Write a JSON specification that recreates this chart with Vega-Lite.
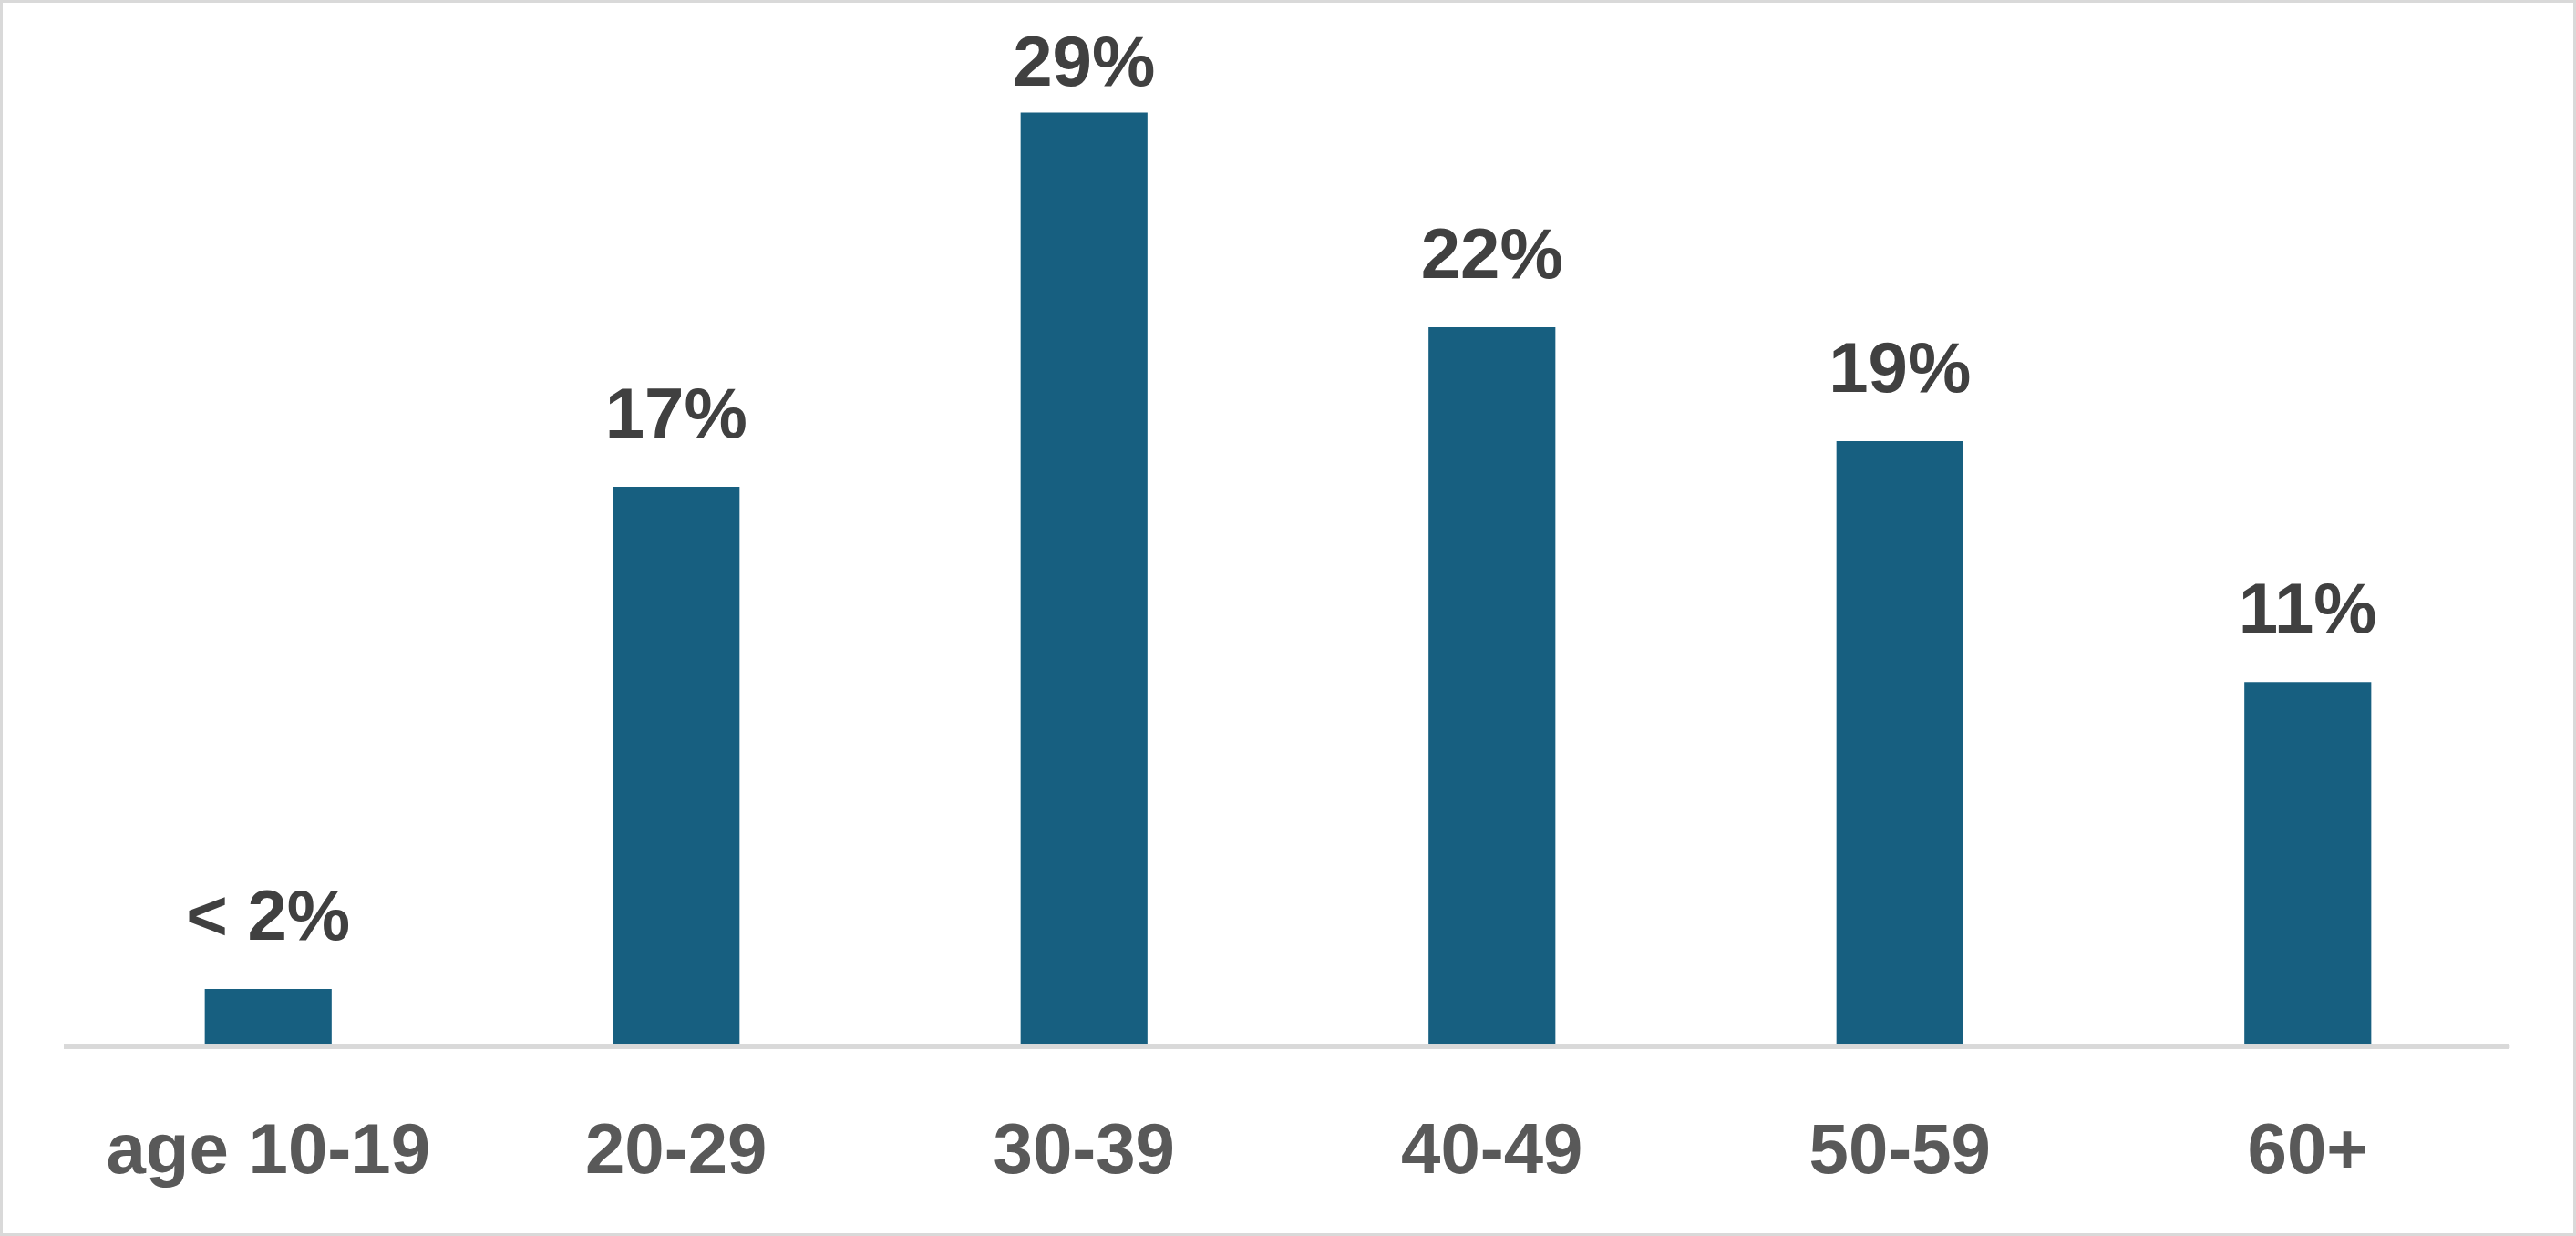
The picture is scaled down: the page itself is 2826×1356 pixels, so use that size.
{
  "$schema": "https://vega.github.io/schema/vega-lite/v6.json",
  "autosize": {"type": "fit", "contains": "padding"},
  "width": 2826,
  "height": 1356,
  "padding": 0,
  "background": "white",
  "config": {"view": {"stroke": "#d9d9d9", "strokeWidth": 6}},
  "data": {
    "values": [
      {"age": "age 10-19", "pct": 1.76, "label": "< 2%"},
      {"age": "20-29", "pct": 17.2, "label": "17%"},
      {"age": "30-39", "pct": 28.7, "label": "29%"},
      {"age": "40-49", "pct": 22.1, "label": "22%"},
      {"age": "50-59", "pct": 18.6, "label": "19%"},
      {"age": "60+", "pct": 11.2, "label": "11%"}
    ]
  },
  "layer": [
    {
      "mark": {"type": "bar", "color": "#175F80"},
      "encoding": {
        "x": {"field": "age", "type": "nominal", "sort": null, "axis": null, "scale": {"paddingInner": 0.689, "paddingOuter": 0.502}},
        "y": {"field": "pct", "type": "quantitative", "scale": {"domain": [-5.83, 32.16], "nice": false, "zero": false}, "axis": null},
        "y2": {"datum": 0}
      }
    },
    {
      "mark": {"type": "rule", "color": "#d9d9d9", "strokeWidth": 5},
      "encoding": {
        "x": {"datum": "age 10-19", "type": "nominal", "bandPosition": -1.11},
        "x2": {"datum": "60+", "bandPosition": 2.09},
        "y": {"datum": 0, "type": "quantitative"}
      }
    },
    {
      "transform": [{"filter": "datum.pct < 25"}],
      "mark": {
        "type": "text",
        "font": "Liberation Sans",
        "fontWeight": "bold",
        "fontSize": 78,
        "color": "#404040",
        "baseline": "alphabetic",
        "align": "center",
        "dy": -54
      },
      "encoding": {
        "x": {"field": "age", "type": "nominal", "sort": null},
        "y": {"field": "pct", "type": "quantitative"},
        "text": {"field": "label"}
      }
    },
    {
      "transform": [{"filter": "datum.pct >= 25"}],
      "mark": {
        "type": "text",
        "font": "Liberation Sans",
        "fontWeight": "bold",
        "fontSize": 78,
        "color": "#404040",
        "baseline": "alphabetic",
        "align": "center",
        "dy": -29
      },
      "encoding": {
        "x": {"field": "age", "type": "nominal", "sort": null},
        "y": {"field": "pct", "type": "quantitative"},
        "text": {"field": "label"}
      }
    },
    {
      "mark": {
        "type": "text",
        "font": "Liberation Sans",
        "fontWeight": "bold",
        "fontSize": 78,
        "color": "#595959",
        "baseline": "alphabetic",
        "align": "center"
      },
      "encoding": {
        "x": {"field": "age", "type": "nominal", "sort": null},
        "y": {"datum": -3.89, "type": "quantitative"},
        "text": {"field": "age"}
      }
    }
  ]
}
